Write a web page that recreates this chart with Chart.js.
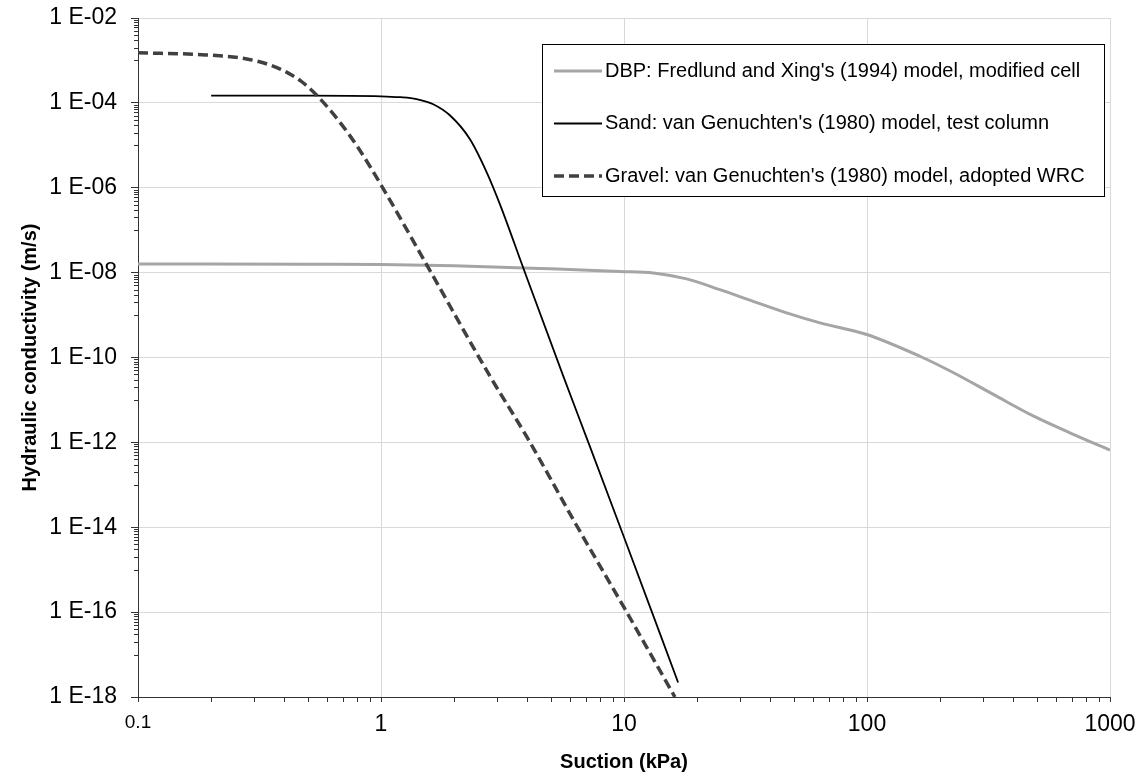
<!DOCTYPE html>
<html>
<head>
<meta charset="utf-8">
<script src="https://cdn.jsdelivr.net/npm/chart.js@4.4.0/dist/chart.umd.min.js"></script>
<style>
  html, body { margin: 0; padding: 0; background: #fff; }
  #wrap { width: 1146px; height: 780px; }
</style>
</head>
<body>
<div id="wrap"><canvas id="kChart" width="1146" height="780"></canvas></div>
<script>
// series names as shown in the legend
const seriesNames = [
  "DBP: Fredlund and Xing's (1994) model, modified cell",
  "Sand: van Genuchten's (1980) model, test column",
  "Gravel: van Genuchten's (1980) model, adopted WRC"
];

// suction (kPa) and hydraulic conductivity (m/s)
const dbpSuction = [0.1, 0.5, 1, 2, 5, 9.63, 13.2, 18.1, 24.8, 34, 46.7, 64.1, 99.7, 165, 220, 331, 483, 706, 1000];
const dbpK = [1.6e-8, 1.57e-8, 1.55e-8, 1.45e-8, 1.23e-8, 1.07e-8, 9.84e-9, 7.11e-9, 3.98e-9, 2.11e-9,
  1.13e-9, 6.55e-10, 3.48e-10, 1.07e-10, 4.8e-11, 1.35e-11, 4.2e-12, 1.55e-12, 6.6e-13];

const sandSuction = [0.2, 0.5, 1, 1.2, 1.4, 1.64, 1.92, 2.32, 2.72, 3.09, 3.85, 5.63, 7.1, 10.1, 16.7];
const sandK = [1.48e-4, 1.48e-4, 1.43e-4, 1.36e-4, 1.23e-4, 9.3e-5, 5.1e-5, 1.41e-5, 2.34e-6, 4.0e-7,
  1.29e-8, 3.6e-11, 1.07e-12, 5.0e-15, 2.2e-18];

const gravelSuction = [0.1, 0.19, 0.284, 0.377, 0.47, 0.55, 0.665, 0.8, 1.0, 1.54, 2.81, 4.0, 6.4, 10.1, 16.2];
const gravelK = [1.51e-3, 1.35e-3, 1.07e-3, 6.6e-4, 3.2e-4, 1.41e-4, 4.0e-5, 9.3e-6, 1.17e-6, 1.55e-8,
  3.6e-11, 1.29e-12, 1.07e-14, 1.17e-16, 1.0e-18];

// tick positions
const xTicks = [0.1, 1, 10, 100, 1000];
const yTickExps = [-2, -4, -6, -8, -10, -12, -14, -16, -18];

const FONT = "'Liberation Sans', Arial, sans-serif";
const axisColor = '#333333';
const gridColor = '#d9d9d9';

Chart.defaults.font.family = FONT;
Chart.defaults.color = '#000';

function toPoints(xs, ys) {
  return xs.map((v, i) => ({ x: v, y: ys[i] }));
}

const datasets = [
  {
    label: seriesNames[0],
    data: toPoints(dbpSuction, dbpK),
    borderColor: '#a5a5a5',
    borderWidth: 3,
    order: 3
  },
  {
    label: seriesNames[1],
    data: toPoints(sandSuction, sandK),
    borderColor: '#000000',
    borderWidth: 1.8,
    order: 2
  },
  {
    label: seriesNames[2],
    data: toPoints(gravelSuction, gravelK),
    borderColor: '#404040',
    borderWidth: 3.5,
    borderDash: [10, 5],
    order: 1
  }
];

// small ticks between the labelled ones
const minorTicks = {
  id: 'minorTicks',
  afterDraw(chart) {
    const { ctx, chartArea, scales: { x, y } } = chart;
    ctx.save();
    ctx.strokeStyle = axisColor;
    ctx.lineWidth = 1;
    ctx.beginPath();
    for (let e = -1; e < 3; e++) {
      for (let k = 2; k <= 9; k++) {
        const px = Math.round(x.getPixelForValue(k * Math.pow(10, e))) + 0.5;
        ctx.moveTo(px, chartArea.bottom);
        ctx.lineTo(px, chartArea.bottom + 5);
      }
    }
    for (let e = -3; e >= -17; e -= 2) {
      for (let k = 1; k <= 9; k++) {
        const py = Math.round(y.getPixelForValue(k * Math.pow(10, e))) + 0.5;
        ctx.moveTo(chartArea.left - 4, py);
        ctx.lineTo(chartArea.left, py);
      }
    }
    ctx.stroke();
    ctx.restore();
  }
};

// legend box inside the plot, like the original
const boxLegend = {
  id: 'boxLegend',
  afterDraw(chart, args, opts) {
    const { ctx } = chart;
    const { left, top, width, height, rowGap, firstRow } = opts;
    ctx.save();
    ctx.fillStyle = '#fff';
    ctx.fillRect(left, top, width, height);
    ctx.strokeStyle = '#000';
    ctx.lineWidth = 1;
    ctx.strokeRect(left + 0.5, top + 0.5, width, height);
    ctx.font = '20px ' + FONT;
    ctx.textBaseline = 'middle';
    chart.data.datasets.forEach((ds, i) => {
      const yy = top + firstRow + i * rowGap;
      ctx.beginPath();
      ctx.strokeStyle = ds.borderColor;
      ctx.lineWidth = ds.borderWidth;
      ctx.setLineDash(ds.borderDash || []);
      ctx.moveTo(left + 12, yy);
      ctx.lineTo(left + 60, yy);
      ctx.stroke();
      ctx.setLineDash([]);
      ctx.fillStyle = '#000';
      ctx.fillText(ds.label, left + 63, yy);
    });
    ctx.restore();
  }
};

new Chart(document.getElementById('kChart'), {
  type: 'line',
  data: { datasets: datasets },
  plugins: [minorTicks, boxLegend],
  options: {
    responsive: false,
    animation: false,
    devicePixelRatio: 1,
    layout: { padding: { top: 18, right: 36, bottom: 0, left: 0 } },
    elements: {
      point: { radius: 0 },
      line: { cubicInterpolationMode: 'monotone', fill: false }
    },
    plugins: {
      legend: { display: false },
      tooltip: { enabled: false },
      boxLegend: { left: 542, top: 44, width: 562, height: 152, rowGap: 52.5, firstRow: 27 }
    },
    scales: {
      x: {
        type: 'logarithmic',
        min: 0.1,
        max: 1000,
        afterBuildTicks(scale) {
          scale.ticks = xTicks.map(v => ({ value: v }));
        },
        afterFit(scale) { scale.height = 83; },
        ticks: {
          autoSkip: false,
          maxRotation: 0,
          padding: 9,
          color: '#000',
          font: (c) => ({ size: (c.tick && c.tick.value < 0.5) ? 19 : 23 }),
          callback: (v) => String(v)
        },
        grid: { color: gridColor, tickColor: axisColor, tickLength: 5 },
        border: { color: axisColor, width: 1 },
        title: {
          display: true,
          text: 'Suction (kPa)',
          font: { size: 20, weight: 'bold' },
          padding: { top: 0, bottom: 6 }
        }
      },
      y: {
        type: 'logarithmic',
        min: 1e-18,
        max: 1e-2,
        afterBuildTicks(scale) {
          scale.ticks = yTickExps.map(e => ({ value: Math.pow(10, e) }));
        },
        afterFit(scale) {
          scale.width = 138;
          scale.paddingTop = 0;
          scale.paddingBottom = 0;
        },
        ticks: {
          autoSkip: false,
          padding: 14,
          color: '#000',
          font: { size: 23 },
          callback: (v) => {
            const e = Math.round(Math.log10(v));
            return '1 E-' + String(-e).padStart(2, '0');
          }
        },
        grid: { color: gridColor, tickColor: axisColor, tickLength: 7 },
        border: { color: axisColor, width: 1 },
        title: {
          display: true,
          text: 'Hydraulic conductivity (m/s)',
          font: { size: 20, weight: 'bold' },
          padding: { top: 18, bottom: 0 }
        }
      }
    }
  }
});
</script>
</body>
</html>
